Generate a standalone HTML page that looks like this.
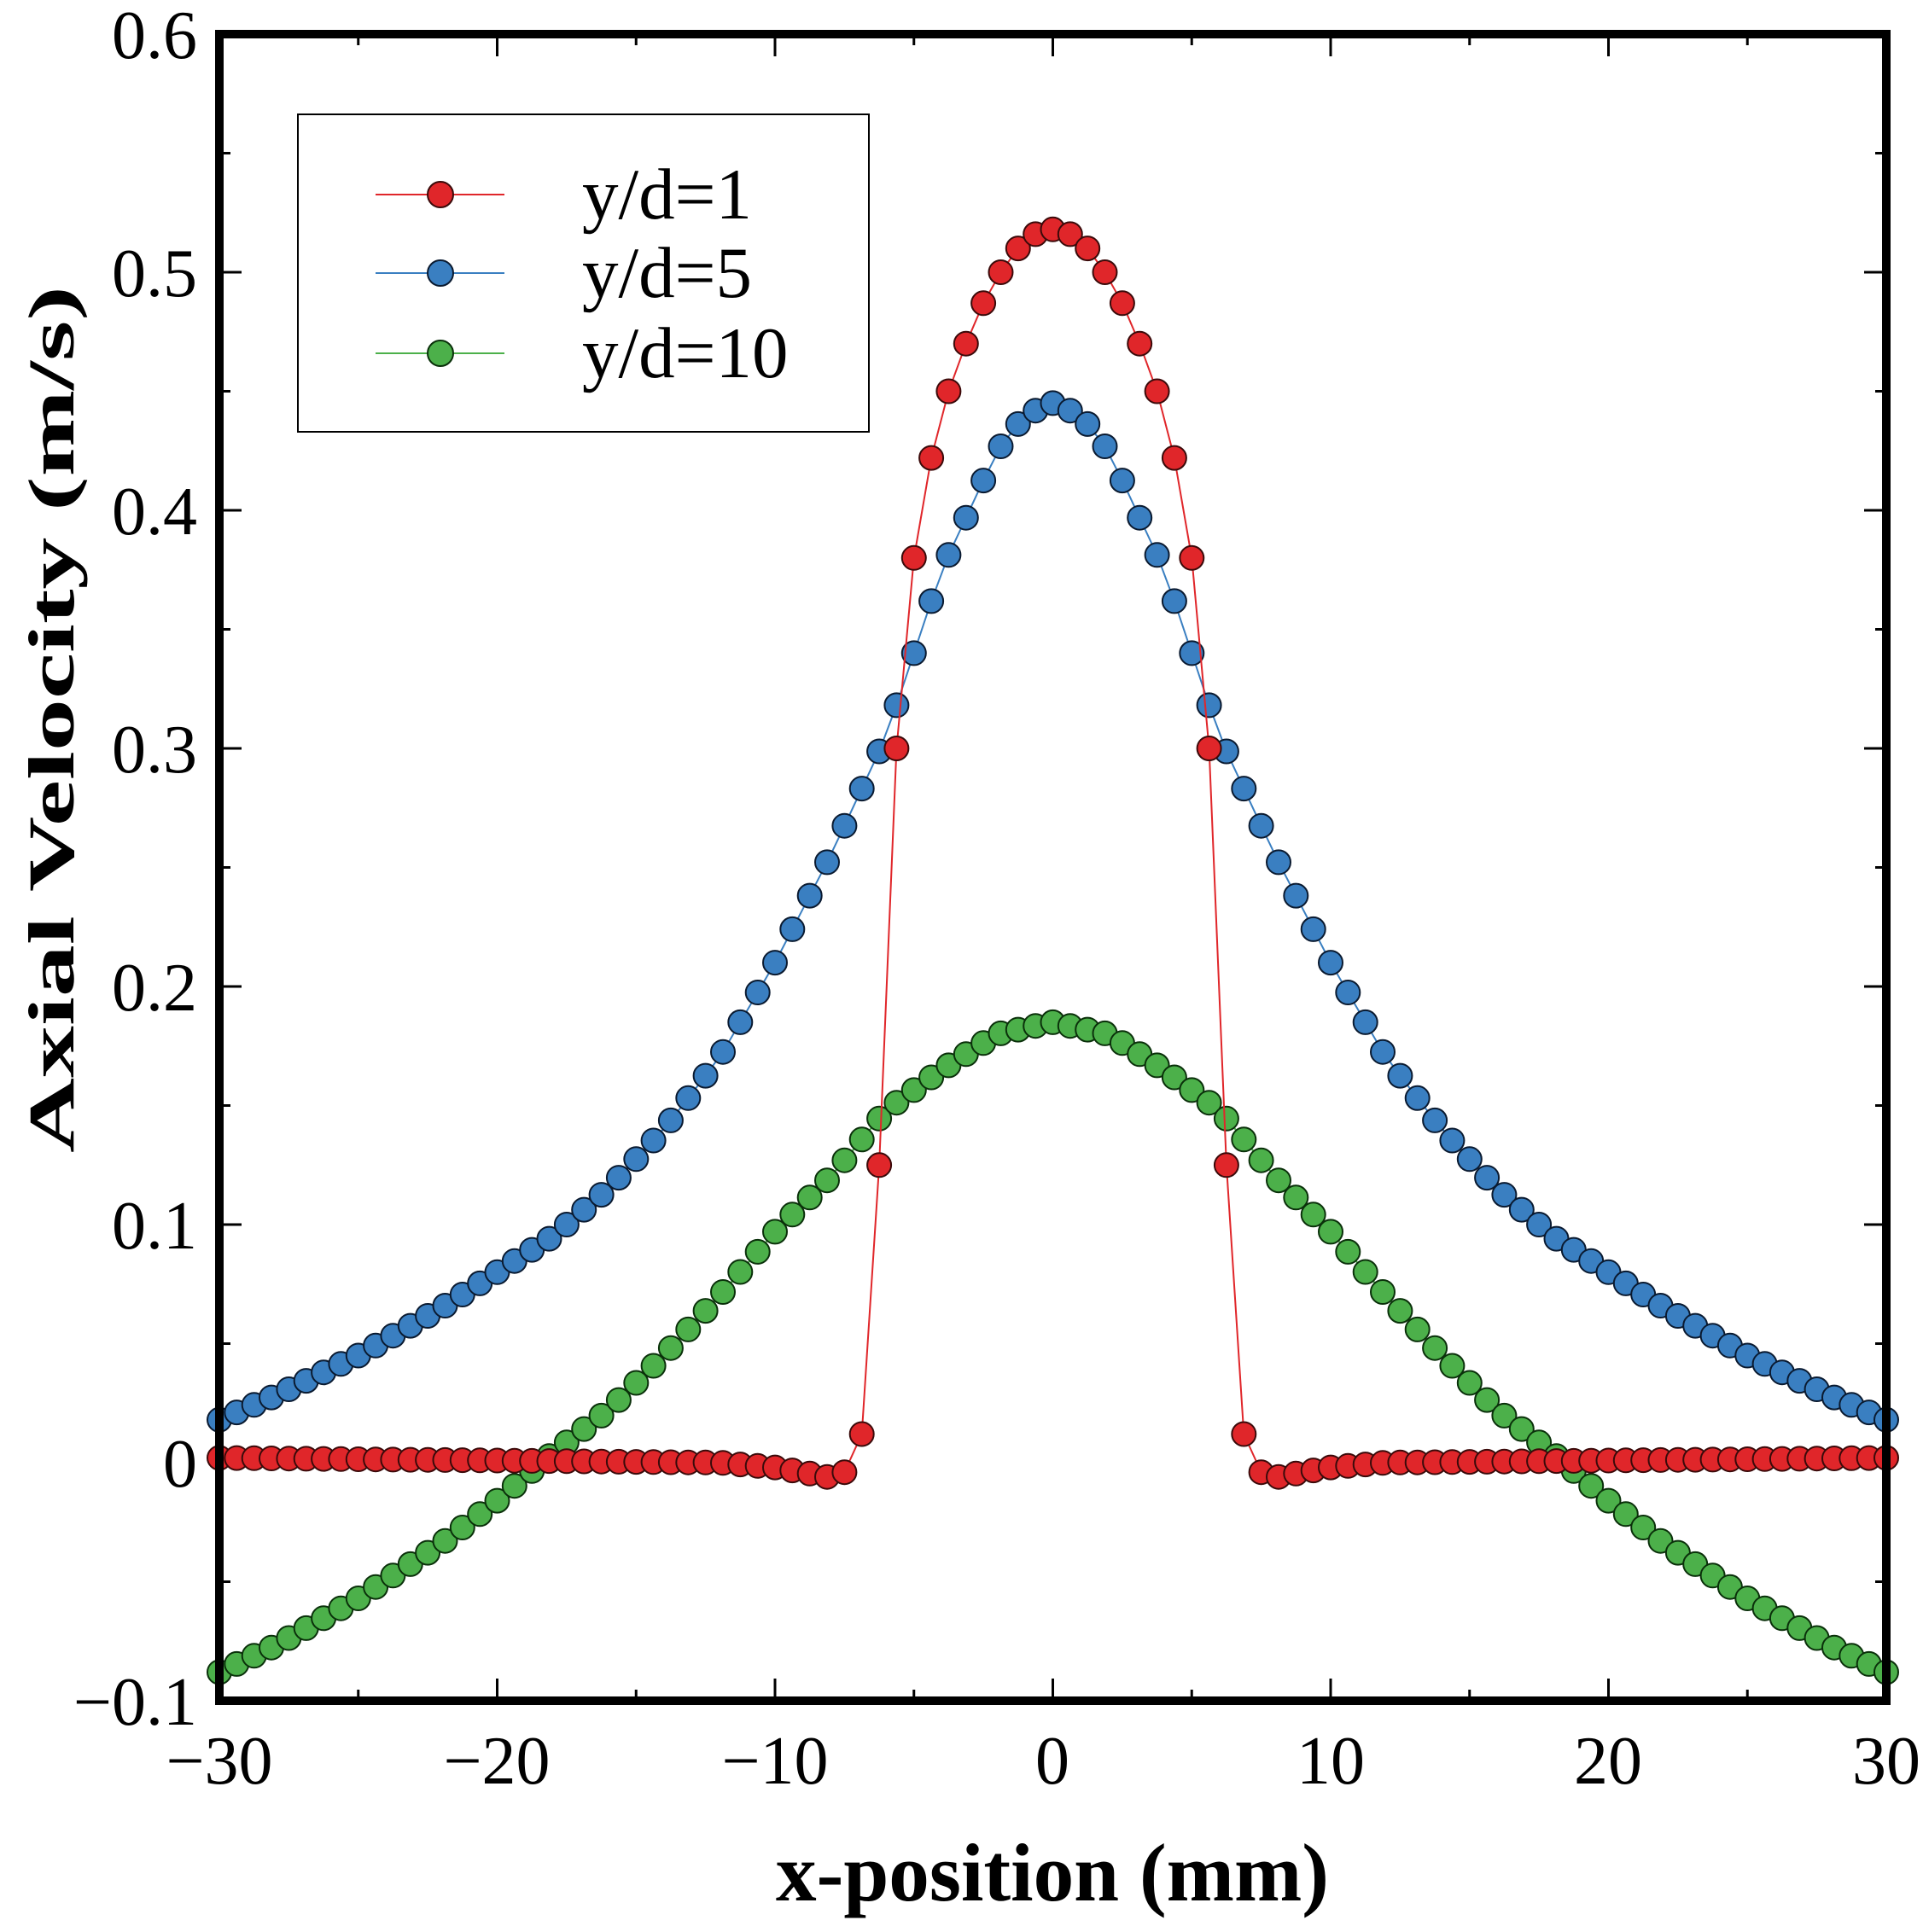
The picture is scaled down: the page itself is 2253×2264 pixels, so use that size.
<!DOCTYPE html>
<html><head><meta charset="utf-8"><style>
html,body{margin:0;padding:0;background:#fff;}
svg{display:block;}
text{font-family:"Liberation Serif",serif;fill:#000;}
</style></head><body>
<svg id="s" width="2253" height="2264" viewBox="0 0 2253 2264" xmlns="http://www.w3.org/2000/svg">
<rect width="2253" height="2264" fill="#fff"/>
<g id="ticks" stroke="#000" stroke-width="3"></g>
<g id="series"></g>
<rect x="257" y="40" width="1953" height="1953" fill="none" stroke="#000" stroke-width="10"/>
<g font-size="80" text-anchor="end">
<text x="231" y="68">0.6</text>
<text x="231" y="347">0.5</text>
<text x="231" y="626">0.4</text>
<text x="231" y="905">0.3</text>
<text x="231" y="1184">0.2</text>
<text x="231" y="1463">0.1</text>
<text x="231" y="1742">0</text>
<text x="231" y="2021">−0.1</text>
</g>
<g font-size="80" text-anchor="middle">
<text x="257" y="2090">−30</text>
<text x="582" y="2090">−20</text>
<text x="908" y="2090">−10</text>
<text x="1233" y="2090">0</text>
<text x="1559" y="2090">10</text>
<text x="1884" y="2090">20</text>
<text x="2210" y="2090">30</text>
</g>
<text x="1233" y="2227" font-size="96" font-weight="bold" text-anchor="middle" textLength="648" lengthAdjust="spacingAndGlyphs">x-position (mm)</text>
<text transform="translate(86,843) rotate(-90)" font-size="76" font-weight="bold" text-anchor="middle" textLength="1016" lengthAdjust="spacingAndGlyphs">Axial Velocity (m/s)</text>
<rect x="349" y="134" width="669" height="372" fill="#fff" stroke="#000" stroke-width="2"/>
<g stroke-width="2">
<line x1="440" y1="228" x2="591" y2="228" stroke="#e0262a"/>
<circle cx="516" cy="228" r="15" fill="#e0262a" stroke="#3a0a0a" stroke-width="2"/>
<line x1="440" y1="320" x2="591" y2="320" stroke="#3a7fc1"/>
<circle cx="516" cy="320" r="15" fill="#3a7fc1" stroke="#0a1a30" stroke-width="2"/>
<line x1="440" y1="414" x2="591" y2="414" stroke="#4cb04a"/>
<circle cx="516" cy="414" r="15" fill="#4cb04a" stroke="#0a300a" stroke-width="2"/>
</g>
<g font-size="85">
<text x="682" y="256">y/d=1</text>
<text x="682" y="348">y/d=5</text>
<text x="682" y="442">y/d=10</text>
</g>
</svg>
<script>
(function(){
function X(x){return 257+(x+30)*1953/60;}
function Y(v){return 40+(0.6-v)*1953/0.7;}
var tk=document.getElementById('ticks'),h='';
for(var i=0;i<=12;i++){var x=X(-30+i*5),L=(i%2==0)?26:13;
h+='<line x1="'+x+'" y1="1993" x2="'+x+'" y2="'+(1993-L)+'"/><line x1="'+x+'" y1="40" x2="'+x+'" y2="'+(40+L)+'"/>';}
for(var i=0;i<=14;i++){var y=Y(-0.1+i*0.05),L=(i%2==0)?26:13;
h+='<line x1="257" y1="'+y+'" x2="'+(257+L)+'" y2="'+y+'"/><line x1="2210" y1="'+y+'" x2="'+(2210-L)+'" y2="'+y+'"/>';}
tk.innerHTML=h;
function interp(t,x){x=Math.abs(x);for(var i=0;i<t.length-1;i++){if(x<=t[i+1][0]+1e-9){var a=t[i],b=t[i+1];return a[1]+(b[1]-a[1])*(x-a[0])/(b[0]-a[0]);}}return t[t.length-1][1];}
var red=[[0,0.518],[0.625,0.516],[1.25,0.51],[1.875,0.50],[2.5,0.487],[3.125,0.47],[3.75,0.45],[4.375,0.422],[5.0,0.38],[5.625,0.30],[6.25,0.125],[6.875,0.012],[7.5,-0.004],[8.125,-0.006],[9,-0.004],[10,-0.002],[12,0.0],[30,0.002]];
var blue=[[0,0.445],[1,0.44],[2,0.425],[4,0.375],[6,0.305],[8,0.255],[10,0.21],[12,0.17],[14,0.14],[16,0.115],[18,0.095],[20,0.08],[22,0.065],[25,0.045],[28,0.028],[30,0.018]];
var green=[[0,0.185],[2,0.18],[4,0.165],[6,0.148],[8,0.12],[10,0.097],[12,0.07],[14,0.045],[16,0.022],[18,0.004],[19,-0.006],[20,-0.016],[22,-0.034],[25,-0.057],[28,-0.077],[30,-0.088]];
var S=[[green,'#4cb04a','#0a300a'],[blue,'#3a7fc1','#0a1a30'],[red,'#e0262a','#3a0a0a']];
var g=document.getElementById('series'),out='';
var N=96;
S.forEach(function(s){var pts=[];for(var i=0;i<=N;i++){var x=-30+i*60/N;pts.push([X(x),Y(interp(s[0],x))]);}
out+='<polyline fill="none" stroke="'+s[1]+'" stroke-width="2" points="'+pts.map(function(p){return p[0].toFixed(1)+','+p[1].toFixed(1)}).join(' ')+'"/>';
pts.forEach(function(p){out+='<circle cx="'+p[0].toFixed(1)+'" cy="'+p[1].toFixed(1)+'" r="14" fill="'+s[1]+'" stroke="'+s[2]+'" stroke-width="2"/>';});});
g.innerHTML=out;
})();
</script>
</body></html>
